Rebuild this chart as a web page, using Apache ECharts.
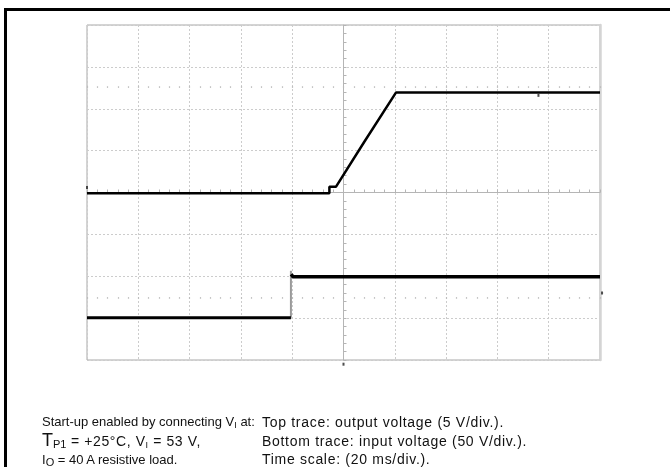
<!DOCTYPE html>
<html>
<head>
<meta charset="utf-8">
<script src="https://cdn.jsdelivr.net/npm/echarts@6/dist/echarts.min.js"></script>
<style>
  html, body { margin: 0; padding: 0; background: #fff; width: 670px; height: 467px; overflow: hidden; }
  #frame { position: absolute; left: 4px; top: 8px; width: 700px; height: 500px; border-left: 3px solid #000; border-top: 3px solid #000; }
  #chart { position: absolute; left: 0; top: 0; width: 670px; height: 467px; }
  .cap { position: absolute; font-family: Arial, "Liberation Sans", sans-serif; font-size: 13px; line-height: 18.5px; color: #111; white-space: nowrap; }
  .cap sub { font-size: 9px; vertical-align: -2px; line-height: 0; }
  .big { font-size: 18px; line-height: 0; }
  .cap sub.s2 { font-size: 11px; }
  .wide { font-size: 14px; letter-spacing: 0.6px; }
  .right { font-size: 14px; letter-spacing: 0.7px; }
</style>
</head>
<body>
<div id="frame"></div>
<div id="chart"></div>
<div class="cap" style="left:42px; top:413px;">
  Start-up enabled by connecting V<sub>I</sub> at:<br>
  <span class="big">T</span><sub class="s2">P1</sub><span class="wide"> = +25°C, V<sub>I</sub> = 53 V,</span><br>
  I<sub class="s2">O</sub> = 40 A resistive load.
</div>
<div class="cap right" style="left:262px; top:413px;">
  Top trace: output voltage (5 V/div.).<br>
  Bottom trace: input voltage (50 V/div.).<br>
  Time scale: (20 ms/div.).
</div>
<script>
// Time axis: 20 ms/div, 10 divisions. Vertical: 8 divisions.
const timeMin = 0, timeMax = 200, timeDiv = 20;
const divMin = 0, divMax = 8;

// Top trace: output voltage (in screen divisions), [time ms, div]
const topTraceTime = [0, 94.5, 94.5, 97.1, 108, 120.5, 200];
const topTraceDiv  = [3.98, 3.98, 4.14, 4.14, 5.2, 6.39, 6.39];

// Bottom trace: input voltage (in screen divisions)
const botLowTime = [0, 79.5];
const botLowDiv  = [1.01, 1.01];
const botEdgeTime = [79.5, 79.5];
const botEdgeDiv  = [1.01, 2.13];
const botHighTime = [79.6, 80.3, 200];
const botHighDiv  = [2.05, 1.99, 1.99];

// Small scope markers (trigger / level indicators)
const markerTime = [176, 200.8, 0, 100];
const markerDiv  = [6.32, 1.6, 4.12, -0.1];

const zip = (a, b) => a.map((v, i) => [v, b[i]]);

const gridTop = 25, gridLeft = 87, gridW = 513, gridH = 335;
const divH = gridH / (divMax - divMin);

const chart = echarts.init(document.getElementById('chart'), null, { renderer: 'canvas' });

const hidden = { show: false };
const noLine = { show: false, onZero: false };
const gridCol = '#cccccc';
const dotCol = '#b8b8b8';

function dotAxis(level, pos, gridIndex) {
  const off = pos === 'top' ? (divMax - level) * divH : (level - divMin) * divH;
  return {
    gridIndex, type: 'value', min: timeMin, max: timeMax, interval: timeDiv, position: pos,
    offset: -off,
    axisLine: noLine, axisLabel: hidden, splitLine: hidden,
    axisTick: { show: true, length: 1.5, lineStyle: { color: dotCol, width: 1.2 } },
    minorTick: { show: true, splitNumber: 5, length: 1.5, lineStyle: { color: dotCol, width: 1.2 } }
  };
}

const gridRect = { left: gridLeft, top: gridTop, width: gridW, height: gridH };

chart.setOption({
  animation: false,
  backgroundColor: 'transparent',
  grid: [
    Object.assign({ show: true, borderColor: '#a9a9a9', borderWidth: 1, backgroundColor: '#fff' }, gridRect),
    Object.assign({ show: false }, gridRect)
  ],
  xAxis: [
    {
      gridIndex: 0, type: 'value', min: timeMin, max: timeMax, interval: timeDiv, position: 'bottom',
      axisLine: noLine, axisTick: hidden, axisLabel: hidden,
      splitLine: { show: true, lineStyle: { color: gridCol, type: [2, 2], width: 1 } }
    },
    {
      gridIndex: 0, type: 'value', min: timeMin, max: timeMax, interval: timeDiv, position: 'top',
      offset: -(divMax / 2) * divH,
      axisLine: { show: true, onZero: false, lineStyle: { color: '#b5b5b5', width: 1 } },
      axisLabel: hidden, splitLine: hidden,
      axisTick: { show: true, length: 3, lineStyle: { color: '#b5b5b5' } },
      minorTick: { show: true, splitNumber: 5, length: 3, lineStyle: { color: '#b5b5b5' } }
    },
    dotAxis(6.5, 'top', 1),
    dotAxis(1.5, 'bottom', 1)
  ],
  yAxis: [
    {
      gridIndex: 0, type: 'value', min: divMin, max: divMax, interval: 1, position: 'left',
      axisLine: noLine, axisTick: hidden, axisLabel: hidden,
      splitLine: { show: true, lineStyle: { color: gridCol, type: [2, 2], width: 1 } }
    },
    {
      gridIndex: 0, type: 'value', min: divMin, max: divMax, interval: 1, position: 'right',
      offset: -gridW / 2,
      axisLine: { show: true, onZero: false, lineStyle: { color: '#b5b5b5', width: 1 } },
      axisLabel: hidden, splitLine: hidden,
      axisTick: { show: true, length: 3, lineStyle: { color: '#b5b5b5' } },
      minorTick: { show: true, splitNumber: 5, length: 3, lineStyle: { color: '#b5b5b5' } }
    },
    {
      gridIndex: 1, type: 'value', min: divMin, max: divMax, interval: 1, position: 'right',
      axisLine: { show: true, onZero: false, lineStyle: { color: '#d4d4d4', width: 2.5 } },
      axisLabel: hidden, splitLine: hidden, axisTick: hidden
    }
  ],
  series: [
    {
      name: 'Output voltage', type: 'line', xAxisIndex: 0, yAxisIndex: 0,
      data: zip(topTraceTime, topTraceDiv), showSymbol: false, symbol: 'none',
      lineStyle: { color: '#000', width: 2.5 }, z: 5
    },
    {
      name: 'Input voltage low', type: 'line', xAxisIndex: 0, yAxisIndex: 0,
      data: zip(botLowTime, botLowDiv), showSymbol: false, symbol: 'none',
      lineStyle: { color: '#000', width: 3 }, z: 5
    },
    {
      name: 'Input voltage edge', type: 'line', xAxisIndex: 0, yAxisIndex: 0,
      data: zip(botEdgeTime, botEdgeDiv), showSymbol: false, symbol: 'none',
      lineStyle: { color: '#9a9a9a', width: 2 }, z: 4
    },
    {
      name: 'Input voltage high', type: 'line', xAxisIndex: 0, yAxisIndex: 0,
      data: zip(botHighTime, botHighDiv), showSymbol: false, symbol: 'none',
      lineStyle: { color: '#000', width: 3.5 }, z: 5
    },
    {
      name: 'Markers', type: 'scatter', xAxisIndex: 0, yAxisIndex: 0, clip: false,
      data: zip(markerTime, markerDiv), symbol: 'rect', symbolSize: [2, 3],
      itemStyle: { color: '#222' }, z: 6, silent: true
    }
  ]
});
</script>
</body>
</html>
